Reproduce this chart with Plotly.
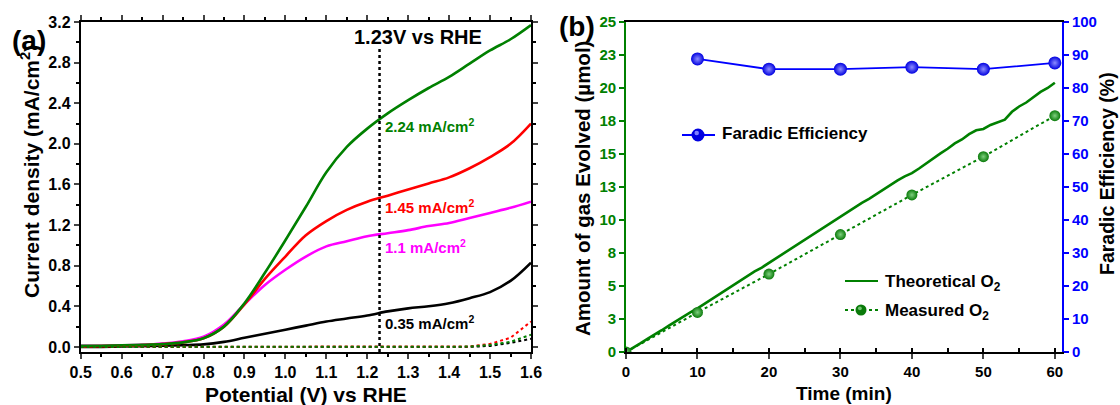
import plotly.graph_objects as go

W, H = 1120, 405
def px(x): return x / W
def py(y): return 1 - y / H

# ---------------- Data: panel (a) ----------------
potential = [0.50, 0.55, 0.60, 0.65, 0.70, 0.75, 0.80, 0.85, 0.90, 0.95, 1.00, 1.05,
             1.10, 1.15, 1.20, 1.25, 1.30, 1.35, 1.40, 1.45, 1.50, 1.55, 1.60]
j_green = [0.010, 0.012, 0.015, 0.020, 0.028, 0.045, 0.085, 0.200, 0.430, 0.730, 1.050, 1.380,
           1.720, 1.970, 2.150, 2.300, 2.430, 2.550, 2.660, 2.790, 2.920, 3.030, 3.170]
j_red = [0.005, 0.008, 0.012, 0.018, 0.028, 0.045, 0.085, 0.200, 0.420, 0.670, 0.890, 1.100,
         1.240, 1.350, 1.430, 1.490, 1.550, 1.610, 1.670, 1.760, 1.870, 2.000, 2.200]
j_magenta = [0.010, 0.012, 0.015, 0.020, 0.032, 0.055, 0.100, 0.220, 0.420, 0.610, 0.760, 0.890,
             0.990, 1.040, 1.090, 1.120, 1.150, 1.190, 1.220, 1.270, 1.320, 1.370, 1.430]
j_black = [0.000, 0.000, 0.004, 0.008, 0.012, 0.018, 0.025, 0.050, 0.090, 0.130, 0.170, 0.210,
           0.250, 0.280, 0.310, 0.350, 0.380, 0.400, 0.430, 0.480, 0.540, 0.650, 0.830]

dark_potential = [0.50, 0.80, 1.00, 1.20, 1.40, 1.45, 1.50, 1.55, 1.60]
dark_red = [0.0, 0.0, 0.0, 0.0, 0.0, 0.005, 0.03, 0.09, 0.25]
dark_green = [0.0, 0.0, 0.0, 0.0, 0.0, 0.003, 0.02, 0.05, 0.12]
dark_black = [0.0, 0.0, 0.0, 0.0, 0.0, 0.0, 0.01, 0.04, 0.08]

ref_potential = [1.23, 1.23]
ref_current = [-0.05, 2.95]

# ---------------- Data: panel (b) ----------------
time_theo = list(range(0, 61))
o2_theoretical = [0.00, 0.30, 0.65, 1.00, 1.30, 1.65, 2.00, 2.35, 2.70, 3.00,
                  3.30, 3.65, 4.05, 4.35, 4.70, 5.05, 5.40, 5.75, 6.10, 6.40,
                  6.75, 7.15, 7.50, 7.80, 8.20, 8.50, 8.90, 9.20, 9.55, 9.90,
                  10.25, 10.60, 10.95, 11.30, 11.60, 11.95, 12.35, 12.65, 13.00, 13.30,
                  13.55, 13.90, 14.30, 14.70, 15.05, 15.40, 15.80, 16.10, 16.50, 16.80,
                  16.90, 17.20, 17.40, 17.60, 18.20, 18.60, 18.90, 19.30, 19.70, 20.00,
                  20.40]
time_meas = [0, 10, 20, 30, 40, 50, 60]
o2_measured = [0.0, 3.0, 5.9, 8.9, 11.9, 14.8, 17.9]
time_fe = [10, 20, 30, 40, 50, 60]
faradic_eff = [88.8, 85.7, 85.7, 86.3, 85.7, 87.6]

left_ytick_vals = [0, 2.5, 5, 7.5, 10, 12.5, 15, 17.5, 20, 22.5, 25]
left_ytick_text = ["0", "3", "5", "8", "10", "13", "15", "18", "20", "23", "25"]

FONT = "Liberation Sans, Arial, sans-serif"
GREEN = "#008000"
BLUE = "#0000FF"

fig = go.Figure()

# panel (a) curves
for y, c in [(j_black, "black"), (j_magenta, "#FF00FF"), (j_red, "#FF0000"), (j_green, GREEN)]:
    fig.add_trace(go.Scatter(x=potential, y=y, mode="lines", line=dict(color=c, width=2.6, shape="spline"),
                             showlegend=False, xaxis="x", yaxis="y"))
for y, c in [(dark_black, "black"), (dark_red, "#FF0000"), (dark_green, GREEN)]:
    fig.add_trace(go.Scatter(x=dark_potential, y=y, mode="lines", line=dict(color=c, width=2, dash="dot"),
                             showlegend=False, xaxis="x", yaxis="y"))
fig.add_trace(go.Scatter(x=ref_potential, y=ref_current, mode="lines",
                         line=dict(color="black", width=2.5, dash="dot"),
                         showlegend=False, xaxis="x", yaxis="y"))

# panel (b)
fig.add_trace(go.Scatter(x=time_theo, y=o2_theoretical, mode="lines", name="Theoretical O<sub>2</sub>",
                         line=dict(color=GREEN, width=2.6), showlegend=False, xaxis="x2", yaxis="y2"))
fig.add_trace(go.Scatter(x=time_meas, y=o2_measured, mode="lines+markers", name="Measured O<sub>2</sub>",
                         line=dict(color=GREEN, width=2, dash="dot"),
                         marker=dict(size=11, color="#0a7a0a", gradient=dict(type="radial", color="#7fd07f"),
                                     line=dict(width=0)),
                         showlegend=False, xaxis="x2", yaxis="y2"))
fig.add_trace(go.Scatter(x=time_fe, y=faradic_eff, mode="lines+markers", name="Faradic Efficiency",
                         line=dict(color=BLUE, width=1.8),
                         marker=dict(size=13, color="#0000E0", gradient=dict(type="radial", color="#8c8cff"),
                                     line=dict(width=0)),
                         showlegend=False, xaxis="x2", yaxis="y3"))

tickfont_a = dict(family=FONT, size=16, color="black", weight="bold")
tickfont_b = dict(family=FONT, size=15, color="black", weight="bold")

ydom = [py(352), py(22)]
fig.update_layout(
    width=W, height=H,
    margin=dict(l=0, r=0, t=0, b=0),
    paper_bgcolor="white", plot_bgcolor="rgba(0,0,0,0)",
    font=dict(family=FONT),
    showlegend=False,
    xaxis=dict(domain=[px(80.7), px(531)], range=[0.5, 1.6], dtick=0.1, tickformat=".1f",
               ticks="outside", ticklen=5, tickwidth=1.5, showline=True, linecolor="black", linewidth=1.8,
               mirror="ticks", showgrid=False, zeroline=False, tickfont=tickfont_a, automargin=False,
               minor=dict(dtick=0.05, ticks="outside", ticklen=3, tickcolor="black"),
               anchor="y"),
    yaxis=dict(domain=ydom, range=[-0.05, 3.2], tickvals=[0, 0.4, 0.8, 1.2, 1.6, 2.0, 2.4, 2.8, 3.2],
               tickformat=".1f", ticks="outside", ticklen=5, tickwidth=1.5, showline=True, linecolor="black",
               linewidth=1.8, mirror="ticks", showgrid=False, zeroline=False, tickfont=tickfont_a,
               automargin=False, minor=dict(dtick=0.2, tick0=0, ticks="outside", ticklen=3, tickcolor="black"),
               anchor="x"),
    xaxis2=dict(domain=[px(626), px(1062)], range=[0, 61], tickvals=[0, 10, 20, 30, 40, 50, 60],
                ticks="outside", ticklen=5, tickwidth=1.5, showline=True, linecolor="black", linewidth=1.8,
                mirror=True, showgrid=False, zeroline=False, tickfont=tickfont_b, automargin=False,
                minor=dict(dtick=5, tick0=0, ticks="inside", ticklen=4, tickcolor="black"),
                anchor="y2"),
    yaxis2=dict(domain=ydom, range=[0, 25], tickvals=left_ytick_vals, ticktext=left_ytick_text,
                ticks="outside", ticklen=5, tickwidth=1.5, tickcolor=GREEN, showline=True, linecolor=GREEN,
                linewidth=1.8, showgrid=False, zeroline=False,
                tickfont=dict(family=FONT, size=15, color=GREEN, weight="bold"), automargin=False,
                anchor="x2"),
    yaxis3=dict(range=[0, 100], dtick=10, overlaying="y2", side="right", anchor="x2",
                ticks="outside", ticklen=5, tickwidth=1.5, tickcolor=BLUE, showline=True, linecolor=BLUE,
                linewidth=1.8, showgrid=False, zeroline=False,
                tickfont=dict(family=FONT, size=15, color=BLUE, weight="bold"), automargin=False),
)

def ann(text, x, y, size=16, color="black", angle=0, xanchor="center", weight="bold"):
    fig.add_annotation(text=text, x=px(x), y=py(y), xref="paper", yref="paper", showarrow=False,
                       xanchor=xanchor, yanchor="middle", textangle=angle,
                       font=dict(family=FONT, size=size, color=color, weight=weight))

ann("(a)", 29, 40, size=28)
ann("(b)", 577, 27, size=28)
ann("Current density (mA/cm<sup>2</sup>)", 30, 172, size=21, angle=-90)
ann("Potential (V) vs RHE", 306, 394, size=21)
ann("Time (min)", 844, 393, size=19)
ann("Amount of gas Evolved (µmol)", 582, 189, size=20.5, angle=-90)
ann("Faradic Efficiency (%)", 1107, 174, size=19.5, angle=-90)
ann("1.23V vs RHE", 418, 37, size=20)
ann("2.24 mA/cm<sup>2</sup>", 383, 125, size=15, color=GREEN, xanchor="left")
ann("1.45 mA/cm<sup>2</sup>", 383, 207, size=15, color="#FF0000", xanchor="left")
ann("1.1 mA/cm<sup>2</sup>", 383, 246, size=15, color="#FF00FF", xanchor="left")
ann("0.35 mA/cm<sup>2</sup>", 383, 322, size=15, color="black", xanchor="left")

# ---- manual legends ----
def leg_line(x0, x1, y, color, dash="solid", width=2):
    fig.add_shape(type="line", xref="paper", yref="paper", x0=px(x0), x1=px(x1), y0=py(y), y1=py(y),
                  line=dict(color=color, width=width, dash=dash))

def leg_ball(cx, cy, r, color, hi):
    fig.add_shape(type="circle", xref="paper", yref="paper", x0=px(cx - r), x1=px(cx + r),
                  y0=py(cy + r), y1=py(cy - r), fillcolor=color, line=dict(width=0))
    fig.add_shape(type="circle", xref="paper", yref="paper", x0=px(cx - r * 0.55), x1=px(cx + r * 0.15),
                  y0=py(cy + r * 0.05), y1=py(cy - r * 0.65), fillcolor=hi, line=dict(width=0))

leg_line(682, 715, 135, BLUE, width=1.8)
leg_ball(698, 135, 6.5, "#0000E0", "#7f7fff")
ann("Faradic Efficiency", 720, 134, size=17, xanchor="left")

leg_line(845, 878, 281, GREEN, width=2)
ann("Theoretical O<sub>2</sub>", 883, 283, size=17, xanchor="left")
leg_line(845, 878, 310, GREEN, dash="dot", width=2)
leg_ball(861, 310, 5.5, "#0a7a0a", "#6fc66f")
ann("Measured O<sub>2</sub>", 883, 312, size=17, xanchor="left")

fig.write_html("out.html", config={"displayModeBar": False},
               post_script="document.body.style.margin='0px';")
